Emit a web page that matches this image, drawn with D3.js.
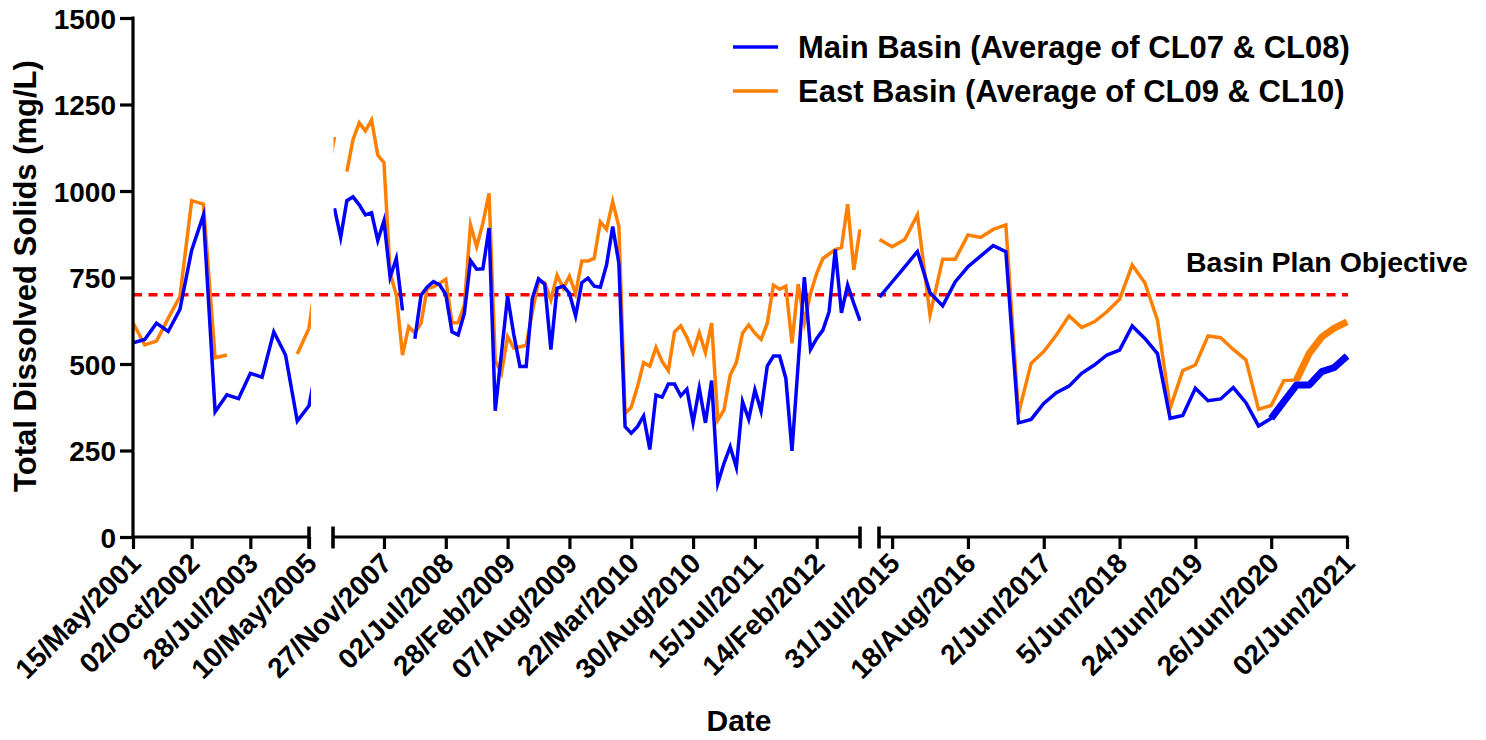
<!DOCTYPE html>
<html>
<head>
<meta charset="utf-8">
<script src="https://cdn.jsdelivr.net/npm/d3@7"></script>
<style>
  html, body { margin: 0; padding: 0; background: #fff; }
  svg { display: block; font-family: Arial, "Liberation Sans", Helvetica, sans-serif; font-weight: bold; }
</style>
</head>
<body>
<svg id="chart" width="1486" height="740"></svg>
<script>
// Total dissolved solids (mg/L), one value per sampling run.
// Each section of the broken date axis is indexed by sample number.

// Section 1: May 2001 - May 2005 (last entry leads into the hidden gap)
const main2001 = [561, 571, 618, 594, 658, 829, 930, 362, 411, 400, 473, 462, 593, 526, 335, 379, 560];
const east2001 = [619, 555, 566, 632, 695, 972, 962, 518, 526, null, null, null, null, null, 529, 603, 850];
const ticks2001 = [0, 5, 10, 15];
const labels2001 = ["15/May/2001", "02/Oct/2002", "28/Jul/2003", "10/May/2005"];

// Section 2: 2007 - 2012 (first entry leads in from the hidden gap)
const main2007 = [null,
  950, 866, 972, 983, 960, 931, 937, 857, 914, 751,
  805, 655, null, 573, 699, 723, 738, 729, 701, 593,
  584, 646, 799, 774, 775, 893, 365, 530, 696, 585,
  493, 493, 690, 746, 731, 542, 719, 725, 704, 639,
  735, 748, 725, 722, 786, 897, 791, 319, 300, 319,
  350, 253, 410, 404, 442, 442, 408, 427, 330, 430,
  330, 452, 155, 213, 261, 201, 391, 340, 425, 364,
  494, 523, 523, 459, 249, 500, 751, 542, 574, 598,
  651, 831, 648, 728, 675, 625];
const east2007 = [1060,
  1156, null, 1056, 1149, 1197, 1174, 1205, 1104, 1082, 762,
  699, 526, 608, 590, 618, 719, 723, 733, 745, 619,
  620, 670, 902, 839, 907, 993, 510, 473, 579, 546,
  550, 554, 650, 740, 735, 685, 757, 719, 754, 704,
  798, 798, 805, 911, 889, 969, 897, 357, 375, 434,
  504, 494, 548, 507, 481, 593, 610, 577, 533, 590,
  533, 618, 338, 367, 468, 504, 589, 613, 589, 571,
  618, 728, 716, 725, 560, 731, 620, 704, 762, 805,
  818, 831, 837, 962, 772, 889];
const ticks2007 = [8, 18, 28, 38, 48, 58, 68, 78];
const labels2007 = ["27/Nov/2007", "02/Jul/2008", "28/Feb/2009", "07/Aug/2009",
                    "22/Mar/2010", "30/Aug/2010", "15/Jul/2011", "14/Feb/2012"];

// Section 3: 2015 - 2021
const main2015 = [693, 737, 781, 825, 706, 668, 738, 781, 812, 842,
                  825, 330, 340, 386, 417, 436, 473, 497, 526, 540,
                  610, 574, 530, 343, 351, 430, 394, 399, 432, 388,
                  321, 343, 391, 439, 439, 478, 490, 523];
const east2015 = [860, 839, 860, 931, 642, 803, 803, 873, 866, 889,
                  902, 357, 502, 536, 584, 639, 606, 622, 651, 687,
                  786, 735, 627, 372, 481, 497, 581, 576, 542, 512,
                  369, 380, 452, 454, 530, 578, 604, 622];
const ticks2015 = [1, 7, 13, 19, 25, 31, 37];
const labels2015 = ["31/Jul/2015", "18/Aug/2016", "2/Jun/2017", "5/Jun/2018",
                    "24/Jun/2019", "26/Jun/2020", "02/Jun/2021"];
// Most recent runs are drawn with a heavier stroke
const mainHeavyFrom = 31;
const eastHeavyFrom = 33;

const yTicks = [0, 250, 500, 750, 1000, 1250, 1500];
const objective = 700;

const seriesNames = ["Main Basin (Average of CL07 & CL08)", "East Basin (Average of CL09 & CL10)"];
const colors = { main: "#0000ff", east: "#ff8000", objective: "#ff0000" };

// ---- layout ----
const svg = d3.select("#chart");
const AXIS_Y = 537;
const y = d3.scaleLinear().domain([0, 1500]).range([AXIS_Y, 18]);

const sections = [
  { first: 0,  main: main2001, east: east2001, domain: [0, 15], range: [133, 309],
    clip: [133, 311], line: [131.5, 309], ticks: ticks2001, labels: labels2001, breaks: [309] },
  { first: -1, main: main2007, east: east2007, domain: [0, 85], range: [334.5, 860],
    clip: [333.5, 861], line: [333, 860], ticks: ticks2007, labels: labels2007, breaks: [333, 860] },
  { first: 0,  main: main2015, east: east2015, domain: [0, 37], range: [879.5, 1347],
    clip: [878, 1350], line: [879, 1348.5], ticks: ticks2015, labels: labels2015, breaks: [879] }
];

const defs = svg.append("defs");
const plot = svg.append("g");
const axes = svg.append("g");

// Objective line spans the whole date axis
plot.append("line")
  .attr("x1", 133).attr("x2", 1348)
  .attr("y1", y(objective)).attr("y2", y(objective))
  .attr("stroke", colors.objective).attr("stroke-width", 3.4)
  .attr("stroke-dasharray", "9,6.5");

sections.forEach((s, k) => {
  const x = d3.scaleLinear().domain(s.domain).range(s.range);

  defs.append("clipPath").attr("id", "sec" + k)
    .append("rect")
    .attr("x", s.clip[0]).attr("y", 0)
    .attr("width", s.clip[1] - s.clip[0]).attr("height", AXIS_Y);

  const g = plot.append("g").attr("clip-path", `url(#sec${k})`);
  const line = d3.line()
    .defined(d => d.v != null)
    .x(d => x(d.i))
    .y(d => y(d.v));
  const pts = arr => arr.map((v, j) => ({ i: j + s.first, v }));

  [["east", s.east], ["main", s.main]].forEach(([key, arr]) => {
    g.append("path")
      .datum(pts(arr))
      .attr("d", line)
      .attr("fill", "none")
      .attr("stroke", colors[key])
      .attr("stroke-width", 3.5)
      .attr("stroke-linejoin", "miter")
      .attr("stroke-miterlimit", 6);
  });

  if (k === 2) {
    [["east", s.east, eastHeavyFrom], ["main", s.main, mainHeavyFrom]].forEach(([key, arr, from]) => {
      g.append("path")
        .datum(pts(arr).filter(d => d.i >= from))
        .attr("d", line)
        .attr("fill", "none")
        .attr("stroke", colors[key])
        .attr("stroke-width", 7)
        .attr("stroke-linejoin", "round");
    });
  }

  // axis line for this section
  axes.append("line")
    .attr("x1", s.line[0]).attr("x2", s.line[1])
    .attr("y1", AXIS_Y).attr("y2", AXIS_Y)
    .attr("stroke", "#000").attr("stroke-width", 3.2);

  const ax = d3.axisBottom(x)
    .tickValues(s.ticks)
    .tickFormat((d, i) => s.labels[i])
    .tickSize(12)
    .tickSizeOuter(0);
  const ag = axes.append("g").attr("transform", `translate(0,${AXIS_Y})`).call(ax);
  ag.select(".domain").remove();
  ag.selectAll(".tick line").attr("stroke", "#000").attr("stroke-width", 3.2);
  ag.selectAll(".tick text")
    .attr("fill", "#000")
    .attr("font-size", 28)
    .attr("font-weight", "bold")
    .attr("text-anchor", "end")
    .attr("y", null).attr("dy", null)
    .attr("transform", "translate(9,28) rotate(-45)");

  // break marks
  s.breaks.forEach(bx => {
    axes.append("line")
      .attr("x1", bx).attr("x2", bx)
      .attr("y1", AXIS_Y - 10.5).attr("y2", AXIS_Y + 11.5)
      .attr("stroke", "#000").attr("stroke-width", 3.6);
  });
});

// y axis
const yAxis = d3.axisLeft(y).tickValues(yTicks).tickFormat(d3.format("d"))
  .tickSize(13).tickSizeOuter(0).tickPadding(4);
const yg = axes.append("g").attr("transform", "translate(133,0)").call(yAxis);
yg.select(".domain").attr("stroke", "#000").attr("stroke-width", 3.2)
  .attr("d", `M0,${y(1500) - 1.5}V${AXIS_Y + 1.5}`);
yg.selectAll(".tick line").attr("stroke", "#000").attr("stroke-width", 3.2);
yg.selectAll(".tick text")
  .attr("fill", "#000")
  .attr("font-size", 28)
  .attr("font-weight", "bold")
  .attr("dy", "0.36em");

// axis titles
svg.append("text")
  .attr("transform", "translate(36,276) rotate(-90)")
  .attr("text-anchor", "middle")
  .attr("font-size", 31)
  .text("Total Dissolved Solids (mg/L)");

svg.append("text")
  .attr("x", 739).attr("y", 731)
  .attr("text-anchor", "middle")
  .attr("font-size", 30)
  .text("Date");

// objective label
svg.append("text")
  .attr("x", 1186).attr("y", 272)
  .attr("font-size", 28.5)
  .text("Basin Plan Objective");

// legend
const legend = svg.append("g");
[["main", 47], ["east", 91]].forEach(([key, ly], i) => {
  legend.append("line")
    .attr("x1", 733).attr("x2", 778)
    .attr("y1", ly).attr("y2", ly)
    .attr("stroke", colors[key]).attr("stroke-width", 3.5);
  legend.append("text")
    .attr("x", 798).attr("y", ly + 11)
    .attr("font-size", 31)
    .text(seriesNames[i]);
});
</script>
</body>
</html>
